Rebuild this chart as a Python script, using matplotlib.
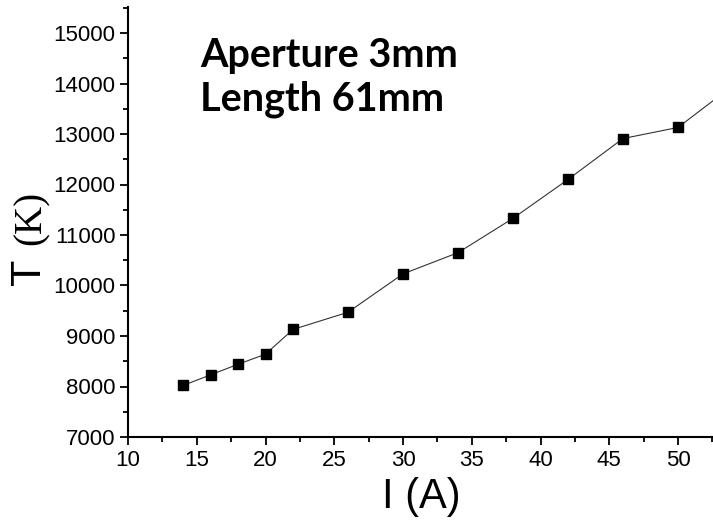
import matplotlib
matplotlib.use("Agg")
import matplotlib.pyplot as plt
from matplotlib.ticker import MultipleLocator

# --- datos ---
current_a = [14, 16, 18, 20, 22, 26, 30, 34, 38, 42, 46, 50, 54]
temp_k = [8020, 8230, 8440, 8640, 9130, 9470, 10230, 10650, 11330, 12100, 12910, 13130, 13960]
x_ticks = [10, 15, 20, 25, 30, 35, 40, 45, 50]
y_ticks = [7000, 8000, 9000, 10000, 11000, 12000, 13000, 14000, 15000]
note_lines = ["Aperture 3mm", "Length 61mm"]

W, H = 713, 520
plt.rcParams['font.family'] = ['Liberation Sans', 'DejaVu Sans']

fig = plt.figure(figsize=(W / 100, H / 100), dpi=100)
ax = fig.add_axes([128 / W, (H - 437) / H, (W - 128) / W, (437 - 7) / H])

ax.plot(current_a, temp_k, color="#333333", lw=0.8, marker="s", ms=6.5,
        mfc="black", mec="black")

ax.set_xlim(10, 10 + (W - 128) / 13.75)
ax.set_ylim(7000, 7000 + 430 / 0.0505)
ax.set_xticks(x_ticks)
ax.set_yticks(y_ticks)
ax.xaxis.set_minor_locator(MultipleLocator(2.5))
ax.yaxis.set_minor_locator(MultipleLocator(500))

for s in ["top", "right"]:
    ax.spines[s].set_visible(False)
for s in ["left", "bottom"]:
    ax.spines[s].set_linewidth(1.5)

ax.tick_params(which="major", direction="out", length=6, width=1.3, labelsize=16, pad=3)
ax.tick_params(which="minor", direction="out", length=3.5, width=1.3)

# etiquetas de ejes
fig.text(421 / W, 1 - 497 / H, "I (A)", fontsize=30, ha="center", va="center")
fig.text(29 / W, 1 - 272 / H, "T", fontsize=31, rotation=90, ha="center", va="center")
fig.text(31 / W, 1 - 218 / H, "(K)", fontsize=28, rotation=90, ha="center", va="center",
         family="Liberation Serif")

# anotación
fig.text(200 / W, 1 - 67 / H, note_lines[0], fontsize=28.5, fontweight="bold",
         family="Lato", ha="left", va="baseline")
fig.text(200 / W, 1 - 110 / H, note_lines[1], fontsize=28.5, fontweight="bold",
         family="Lato", ha="left", va="baseline")

fig.savefig("out.png", dpi=100)
